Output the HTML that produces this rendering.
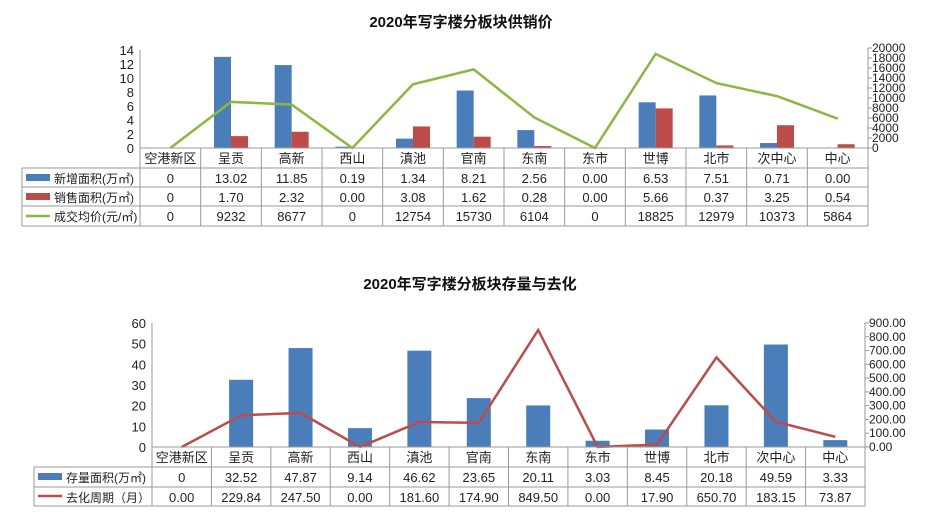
<!DOCTYPE html>
<html><head><meta charset="utf-8">
<style>
html,body{margin:0;padding:0;background:#fff;}
svg{display:block;font-family:"Liberation Sans","Noto Sans CJK SC",sans-serif;}
</style></head>
<body>
<svg id="s" width="940" height="514" xmlns="http://www.w3.org/2000/svg">
<rect width="940" height="514" fill="#fff"/>
<text x="461" y="27" text-anchor="middle" font-size="15" font-weight="bold" fill="#111">2020年写字楼分板块供销价</text>
<text x="470" y="289" text-anchor="middle" font-size="15" font-weight="bold" fill="#111">2020年写字楼分板块存量与去化</text>
</svg>
<script>
var s=document.getElementById('s'),NS='http://www.w3.org/2000/svg';
function el(t,a,txt){var e=document.createElementNS(NS,t);for(var k in a)e.setAttribute(k,a[k]);if(txt!==undefined)e.textContent=txt;s.appendChild(e);return e;}
function line(x1,y1,x2,y2,c,w){el('line',{x1:x1,y1:y1,x2:x2,y2:y2,stroke:c,'stroke-width':w||1});}
function txt(x,y,t,sz,anc,c){el('text',{x:x,y:y,'font-size':sz||13,'text-anchor':anc||'middle',fill:c||'#222'},t);}
var cats=['空港新区','呈贡','高新','西山','滇池','官南','东南','东市','世博','北市','次中心','中心'];
var G='#999';
(function(){
var x0=140,w=728/12,y0=148;
var a=[0,13.02,11.85,0.19,1.34,8.21,2.56,0,6.53,7.51,0.71,0];
var b=[0,1.70,2.32,0,3.08,1.62,0.28,0,5.66,0.37,3.25,0.54];
var p=[0,9232,8677,0,12754,15730,6104,0,18825,12979,10373,5864];
var A=['0','13.02','11.85','0.19','1.34','8.21','2.56','0.00','6.53','7.51','0.71','0.00'];
var B=['0','1.70','2.32','0.00','3.08','1.62','0.28','0.00','5.66','0.37','3.25','0.54'];
var P=p.map(String);
for(var i=0;i<=14;i+=2)txt(134,y0-i*7+5,String(i),13,'end');
line(x0,50,x0,y0,G);
var xr=868;line(xr,48,xr,y0,G);
for(var v=0;v<=20000;v+=2000){var y=y0-v/200;line(xr,y,xr+4,y,G);txt(872,y+4,String(v),12,'start');}
for(var i=0;i<12;i++){var c=x0+w*(i+.5);
 var h=a[i]*7;el('rect',{x:c-17,y:y0-h,width:17,height:h,fill:'#4a7ebb'});
 h=b[i]*7;el('rect',{x:c,y:y0-h,width:17,height:h,fill:'#be4b48'});}
var pts=p.map(function(v,i){return (x0+w*(i+.5))+','+(y0-v/200);}).join(' ');
el('polyline',{points:pts,fill:'none',stroke:'#8cb740','stroke-width':2.5});
var rows=[168,187,206,226],L=22;
line(x0,y0,xr,y0,G);
for(var r=0;r<4;r++)line(L,rows[r],xr,rows[r],G);
line(L,168,L,226,G);
for(var i=0;i<=12;i++)line(x0+w*i,y0,x0+w*i,226,G);
for(var i=0;i<12;i++){var c=x0+w*(i+.5);txt(c,163,cats[i]);txt(c,183,A[i]);txt(c,202,B[i]);txt(c,221,P[i]);}
el('rect',{x:26,y:174,width:24,height:7,fill:'#4a7ebb'});txt(54,183,'新增面积(万㎡)',12,'start');
el('rect',{x:26,y:193,width:24,height:7,fill:'#be4b48'});txt(54,202,'销售面积(万㎡)',12,'start');
line(26,216,50,216,'#8cb740',2.5);txt(54,221,'成交均价(元/㎡)',12,'start');
})();
(function(){
var x0=152,xr=865,w=(xr-x0)/12,y0=447;
var a=[0,32.52,47.87,9.14,46.62,23.65,20.11,3.03,8.45,20.18,49.59,3.33];
var p=[0,229.84,247.50,0,181.60,174.90,849.50,0,17.90,650.70,183.15,73.87];
var A=['0','32.52','47.87','9.14','46.62','23.65','20.11','3.03','8.45','20.18','49.59','3.33'];
var P=['0.00','229.84','247.50','0.00','181.60','174.90','849.50','0.00','17.90','650.70','183.15','73.87'];
for(var i=0;i<=60;i+=10)txt(146,y0-i*124/60+5,String(i),13,'end');
line(x0,323,x0,y0,G);line(xr,323,xr,y0,G);
for(var v=0;v<=900;v+=100){var y=y0-v*124/900;line(xr,y,xr+4,y,G);txt(869,y+4,v.toFixed(2),12,'start');}
for(var i=0;i<12;i++){var c=x0+w*(i+.5),h=a[i]*124/60;el('rect',{x:c-12,y:y0-h,width:24,height:h,fill:'#4a7ebb'});}
var pts=p.map(function(v,i){return (x0+w*(i+.5))+','+(y0-v*124/900);}).join(' ');
el('polyline',{points:pts,fill:'none',stroke:'#be4b48','stroke-width':2.5});
var L=34;line(x0,y0,xr,y0,G);line(L,467,xr,467,G);line(L,487,xr,487,G);line(L,506,xr,506,G);
line(L,467,L,506,G);
for(var i=0;i<=12;i++)line(x0+w*i,y0,x0+w*i,506,G);
for(var i=0;i<12;i++){var c=x0+w*(i+.5);txt(c,462,cats[i]);txt(c,482,A[i]);txt(c,502,P[i]);}
el('rect',{x:38,y:473,width:24,height:7,fill:'#4a7ebb'});txt(66,482,'存量面积(万㎡)',12,'start');
line(38,496,62,496,'#be4b48',2.5);txt(66,502,'去化周期（月）',12,'start');
})();
</script>
</body></html>
